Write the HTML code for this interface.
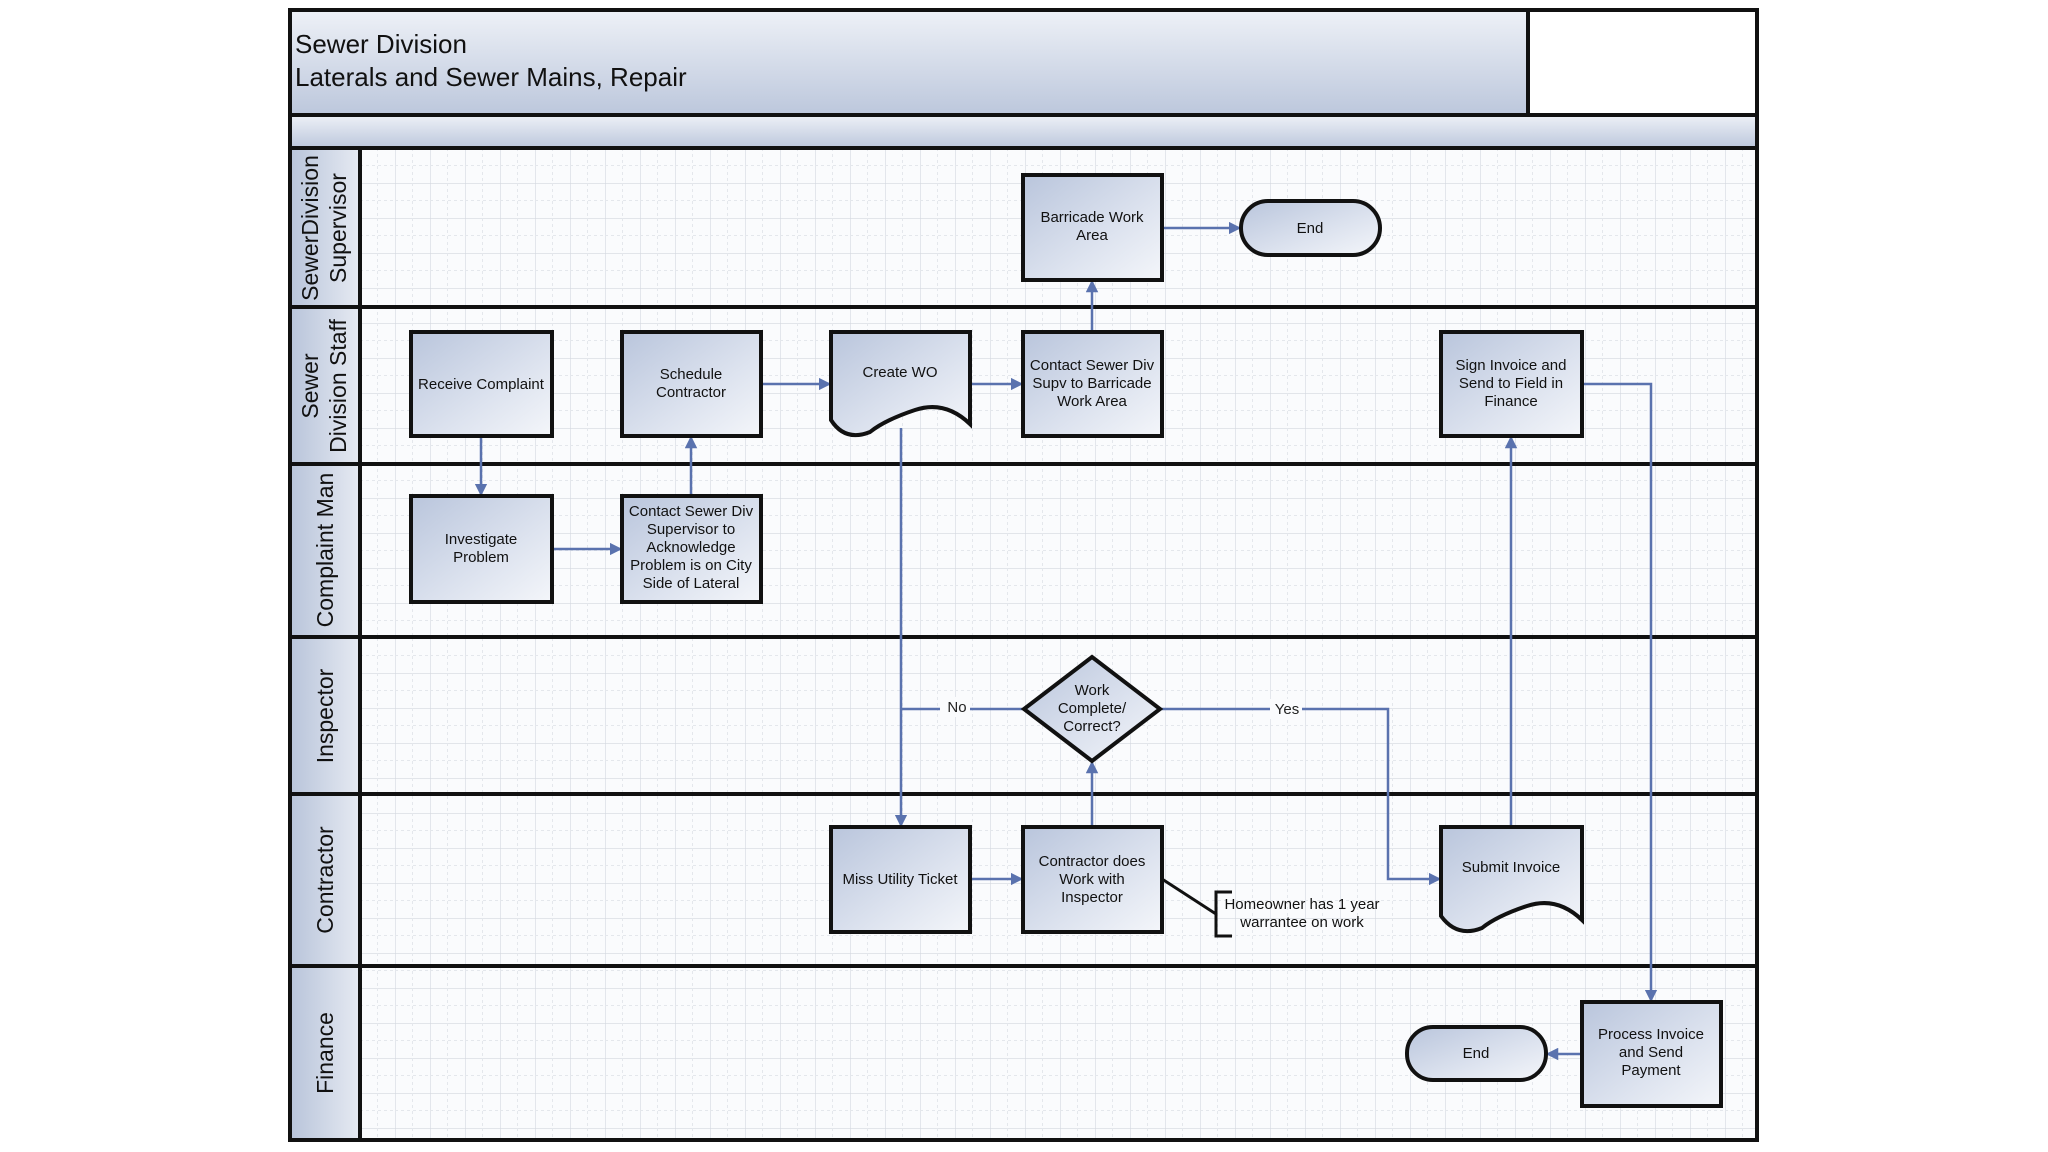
<!DOCTYPE html>
<html><head><meta charset="utf-8"><style>
html,body{margin:0;padding:0;background:#fff;}
svg{display:block;}
text{font-family:"Liberation Sans",sans-serif;}
</style></head><body>
<svg width="2048" height="1152" viewBox="0 0 2048 1152" xmlns="http://www.w3.org/2000/svg">
<defs>
<pattern id="grid" x="360" y="148" width="35" height="35" patternUnits="userSpaceOnUse">
<rect width="35" height="35" fill="#fafbfd"/>
<path d="M0 0H35M0 0V35" stroke="#d4d8e0" stroke-width="1.2"/>
<path d="M17.5 0V35M0 17.5H35" stroke="#e4e7ec" stroke-width="1" stroke-dasharray="3 3"/>
</pattern>
<linearGradient id="bx" x1="0" y1="0" x2="1" y2="1">
<stop offset="0" stop-color="#b9c5dc"/><stop offset="0.6" stop-color="#dde3ef"/><stop offset="1" stop-color="#f4f6fa"/>
</linearGradient>
<linearGradient id="hd" x1="0" y1="0" x2="0" y2="1">
<stop offset="0" stop-color="#eef1f7"/><stop offset="1" stop-color="#bcc7dc"/>
</linearGradient>
<linearGradient id="ln" x1="0" y1="0" x2="1" y2="0">
<stop offset="0" stop-color="#b8c4da"/><stop offset="1" stop-color="#e6eaf2"/>
</linearGradient>
<marker id="ar" viewBox="0 0 10 10" refX="9" refY="5" markerWidth="5" markerHeight="5" orient="auto-start-reverse">
<path d="M0 0L10 5L0 10z" fill="#5a72ae"/></marker>
</defs>

<rect x="360" y="148" width="1397" height="992" fill="url(#grid)"/>
<rect x="290" y="10" width="1238" height="105" fill="url(#hd)"/>
<rect x="1528" y="10" width="229" height="105" fill="#fff"/>
<rect x="290" y="115" width="1467" height="33" fill="url(#hd)"/>
<rect x="290" y="148" width="70" height="992" fill="url(#ln)"/>
<g stroke="#111" stroke-width="4" fill="none">
<rect x="290" y="10" width="1467" height="1130"/>
<line x1="1528" y1="10" x2="1528" y2="115"/>
<line x1="290" y1="115" x2="1757" y2="115"/>
<line x1="290" y1="148" x2="1757" y2="148"/>
<line x1="360" y1="148" x2="360" y2="1140"/>
<line x1="290" y1="307" x2="1757" y2="307"/>
<line x1="290" y1="464" x2="1757" y2="464"/>
<line x1="290" y1="637" x2="1757" y2="637"/>
<line x1="290" y1="794" x2="1757" y2="794"/>
<line x1="290" y1="966" x2="1757" y2="966"/>
</g>
<text x="295" y="53" font-size="26" fill="#111">Sewer Division</text>
<text x="295" y="86" font-size="26" fill="#111">Laterals and Sewer Mains, Repair</text>

<g font-size="23" fill="#111" text-anchor="middle">
<text transform="translate(318,228) rotate(-90)">SewerDivision</text>
<text transform="translate(346,228) rotate(-90)">Supervisor</text>
<text transform="translate(318,386) rotate(-90)">Sewer</text>
<text transform="translate(346,386) rotate(-90)">Division Staff</text>
<text transform="translate(333,550) rotate(-90)">Complaint Man</text>
<text transform="translate(333,716) rotate(-90)">Inspector</text>
<text transform="translate(333,880) rotate(-90)">Contractor</text>
<text transform="translate(333,1053) rotate(-90)">Finance</text>
</g>

<g stroke="#5a72ae" stroke-width="2.5" fill="none">
<polyline points="1024,709 901,709"/>
</g>
<g stroke="#5a72ae" stroke-width="2.5" fill="none" marker-end="url(#ar)">
<line x1="1162" y1="228" x2="1240" y2="228"/>
<line x1="1092" y1="332" x2="1092" y2="281"/>
<line x1="481" y1="436" x2="481" y2="495"/>
<line x1="552" y1="549" x2="621" y2="549"/>
<line x1="691" y1="496" x2="691" y2="437"/>
<line x1="761" y1="384" x2="830" y2="384"/>
<line x1="970" y1="384" x2="1022" y2="384"/>
<line x1="901" y1="428" x2="901" y2="826"/>
<polyline points="1160,709 1388,709 1388,879 1440,879"/>
<line x1="1511" y1="825" x2="1511" y2="437"/>
<polyline points="1582,384 1651,384 1651,1001"/>
<line x1="1582" y1="1054" x2="1547" y2="1054"/>
<line x1="970" y1="879" x2="1022" y2="879"/>
<line x1="1092" y1="827" x2="1092" y2="762"/>
</g>
<rect x="940" y="697" width="30" height="20" fill="#fafbfd"/>
<text x="957" y="712" font-size="15" text-anchor="middle" fill="#222">No</text>
<rect x="1270" y="699" width="32" height="20" fill="#fafbfd"/>
<text x="1287" y="714" font-size="15" text-anchor="middle" fill="#222">Yes</text>

<g stroke="#111" stroke-width="4" fill="url(#bx)">
<rect x="1023" y="175" width="139" height="105"/>
<rect x="1241" y="201" width="139" height="54" rx="27"/>
<rect x="411" y="332" width="141" height="104"/>
<rect x="622" y="332" width="139" height="104"/>
<path d="M831 332H970V424Q945 400 915 410T870 432Q845 442 831 420Z"/>
<rect x="1023" y="332" width="139" height="104"/>
<rect x="1441" y="332" width="141" height="104"/>
<rect x="411" y="496" width="141" height="106"/>
<rect x="622" y="496" width="139" height="106"/>
<path d="M1092 657L1160 709L1092 761L1024 709Z"/>
<rect x="831" y="827" width="139" height="105"/>
<rect x="1023" y="827" width="139" height="105"/>
<path d="M1441 827H1582V920Q1557 896 1527 906T1482 928Q1457 938 1441 916Z"/>
<rect x="1582" y="1002" width="139" height="104"/>
<rect x="1407" y="1027" width="139" height="53" rx="26"/>
</g>
<g stroke="#111" stroke-width="3" fill="none">
<polyline points="1162,879 1216,914"/>
<polyline points="1232,892 1216,892 1216,936 1232,936"/>
</g>

<g font-size="15" fill="#111" text-anchor="middle">
<text x="1092" y="222">Barricade Work</text><text x="1092" y="240">Area</text>
<text x="1310" y="233">End</text>
<text x="481" y="389">Receive Complaint</text>
<text x="691" y="379">Schedule</text><text x="691" y="397">Contractor</text>
<text x="900" y="377">Create WO</text>
<text x="1092" y="370">Contact Sewer Div</text><text x="1092" y="388">Supv to Barricade</text><text x="1092" y="406">Work Area</text>
<text x="1511" y="370">Sign Invoice and</text><text x="1511" y="388">Send to Field in</text><text x="1511" y="406">Finance</text>
<text x="481" y="544">Investigate</text><text x="481" y="562">Problem</text>
<text x="691" y="516">Contact Sewer Div</text><text x="691" y="534">Supervisor to</text><text x="691" y="552">Acknowledge</text><text x="691" y="570">Problem is on City</text><text x="691" y="588">Side of Lateral</text>
<text x="1092" y="695">Work</text><text x="1092" y="713">Complete/</text><text x="1092" y="731">Correct?</text>
<text x="900" y="884">Miss Utility Ticket</text>
<text x="1092" y="866">Contractor does</text><text x="1092" y="884">Work with</text><text x="1092" y="902">Inspector</text>
<text x="1511" y="872">Submit Invoice</text>
<text x="1651" y="1039">Process Invoice</text><text x="1651" y="1057">and Send</text><text x="1651" y="1075">Payment</text>
<text x="1476" y="1058">End</text>
<text x="1302" y="909">Homeowner has 1 year</text><text x="1302" y="927">warrantee on work</text>
</g>
</svg>
</body></html>
